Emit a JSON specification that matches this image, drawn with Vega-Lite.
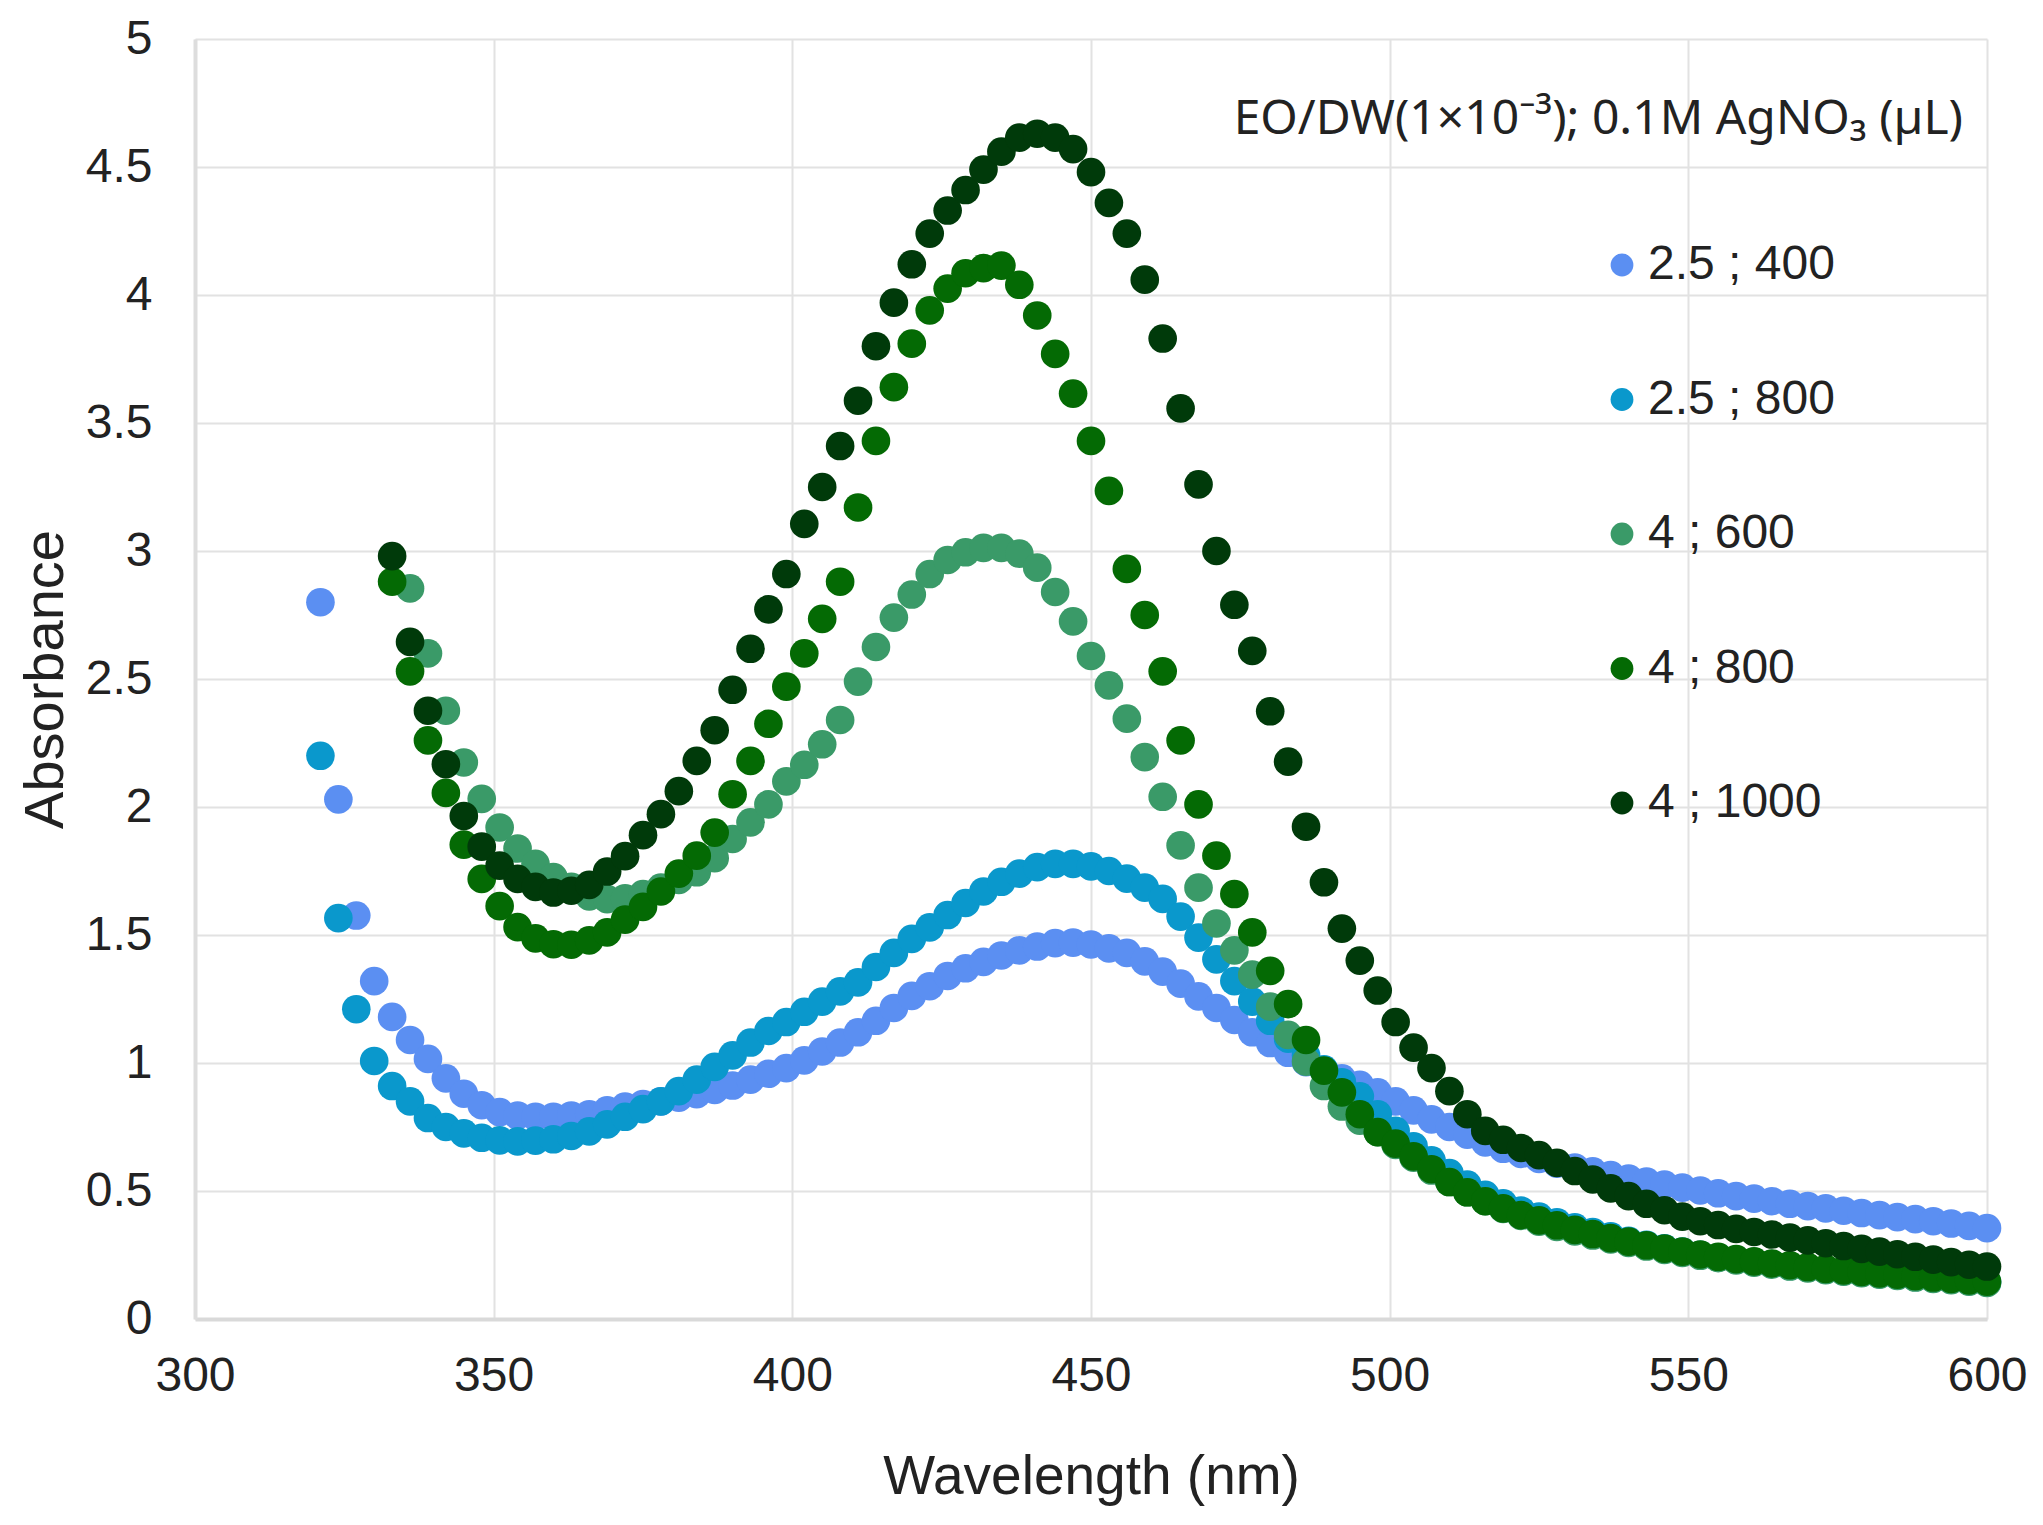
{
"$schema": "https://vega.github.io/schema/vega-lite/v6.json",
"width": 1792, "height": 1280,
"autosize": {"type": "none"},
"padding": {"left": 195, "top": 39, "right": 56, "bottom": 206},
"background": "white",
"config": {"view": {"stroke": null}, "font": "Liberation Sans"},
"title": {"text": "EO/DW(1×10⁻³); 0.1M AgNO₃ (µL)", "anchor": "end", "orient": "top", "frame": "group", "font": "Noto Sans", "fontSize": 48, "fontWeight": "normal", "color": "#222222", "baseline": "alphabetic", "offset": 0, "dy": 167, "dx": -24},
"data": {"values": [
{"series":"2.5 ; 400","nm":321,"abs":2.8},{"series":"2.5 ; 400","nm":324,"abs":2.03},{"series":"2.5 ; 400","nm":327,"abs":1.576},{"series":"2.5 ; 400","nm":330,"abs":1.32},{"series":"2.5 ; 400","nm":333,"abs":1.18},{"series":"2.5 ; 400","nm":336,"abs":1.09},{"series":"2.5 ; 400","nm":339,"abs":1.016},{"series":"2.5 ; 400","nm":342,"abs":0.94},{"series":"2.5 ; 400","nm":345,"abs":0.88},{"series":"2.5 ; 400","nm":348,"abs":0.835},{"series":"2.5 ; 400","nm":351,"abs":0.808},{"series":"2.5 ; 400","nm":354,"abs":0.795},{"series":"2.5 ; 400","nm":357,"abs":0.79},{"series":"2.5 ; 400","nm":360,"abs":0.79},{"series":"2.5 ; 400","nm":363,"abs":0.795},{"series":"2.5 ; 400","nm":366,"abs":0.8},{"series":"2.5 ; 400","nm":369,"abs":0.815},{"series":"2.5 ; 400","nm":372,"abs":0.83},{"series":"2.5 ; 400","nm":375,"abs":0.84},{"series":"2.5 ; 400","nm":378,"abs":0.85},{"series":"2.5 ; 400","nm":381,"abs":0.865},{"series":"2.5 ; 400","nm":384,"abs":0.878},{"series":"2.5 ; 400","nm":387,"abs":0.895},{"series":"2.5 ; 400","nm":390,"abs":0.912},{"series":"2.5 ; 400","nm":393,"abs":0.935},{"series":"2.5 ; 400","nm":396,"abs":0.958},{"series":"2.5 ; 400","nm":399,"abs":0.98},{"series":"2.5 ; 400","nm":402,"abs":1.01},{"series":"2.5 ; 400","nm":405,"abs":1.045},{"series":"2.5 ; 400","nm":408,"abs":1.08},{"series":"2.5 ; 400","nm":411,"abs":1.12},{"series":"2.5 ; 400","nm":414,"abs":1.165},{"series":"2.5 ; 400","nm":417,"abs":1.215},{"series":"2.5 ; 400","nm":420,"abs":1.262},{"series":"2.5 ; 400","nm":423,"abs":1.3},{"series":"2.5 ; 400","nm":426,"abs":1.34},{"series":"2.5 ; 400","nm":429,"abs":1.37},{"series":"2.5 ; 400","nm":432,"abs":1.395},{"series":"2.5 ; 400","nm":435,"abs":1.42},{"series":"2.5 ; 400","nm":438,"abs":1.44},{"series":"2.5 ; 400","nm":441,"abs":1.455},{"series":"2.5 ; 400","nm":444,"abs":1.468},{"series":"2.5 ; 400","nm":447,"abs":1.47},{"series":"2.5 ; 400","nm":450,"abs":1.463},{"series":"2.5 ; 400","nm":453,"abs":1.448},{"series":"2.5 ; 400","nm":456,"abs":1.43},{"series":"2.5 ; 400","nm":459,"abs":1.397},{"series":"2.5 ; 400","nm":462,"abs":1.357},{"series":"2.5 ; 400","nm":465,"abs":1.31},{"series":"2.5 ; 400","nm":468,"abs":1.26},{"series":"2.5 ; 400","nm":471,"abs":1.215},{"series":"2.5 ; 400","nm":474,"abs":1.168},{"series":"2.5 ; 400","nm":477,"abs":1.12},{"series":"2.5 ; 400","nm":480,"abs":1.078},{"series":"2.5 ; 400","nm":483,"abs":1.04},{"series":"2.5 ; 400","nm":486,"abs":1.003},{"series":"2.5 ; 400","nm":489,"abs":0.97},{"series":"2.5 ; 400","nm":492,"abs":0.94},{"series":"2.5 ; 400","nm":495,"abs":0.915},{"series":"2.5 ; 400","nm":498,"abs":0.885},{"series":"2.5 ; 400","nm":501,"abs":0.85},{"series":"2.5 ; 400","nm":504,"abs":0.815},{"series":"2.5 ; 400","nm":507,"abs":0.78},{"series":"2.5 ; 400","nm":510,"abs":0.75},{"series":"2.5 ; 400","nm":513,"abs":0.72},{"series":"2.5 ; 400","nm":516,"abs":0.69},{"series":"2.5 ; 400","nm":519,"abs":0.665},{"series":"2.5 ; 400","nm":522,"abs":0.645},{"series":"2.5 ; 400","nm":525,"abs":0.625},{"series":"2.5 ; 400","nm":528,"abs":0.607},{"series":"2.5 ; 400","nm":531,"abs":0.592},{"series":"2.5 ; 400","nm":534,"abs":0.577},{"series":"2.5 ; 400","nm":537,"abs":0.562},{"series":"2.5 ; 400","nm":540,"abs":0.549},{"series":"2.5 ; 400","nm":543,"abs":0.537},{"series":"2.5 ; 400","nm":546,"abs":0.525},{"series":"2.5 ; 400","nm":549,"abs":0.513},{"series":"2.5 ; 400","nm":552,"abs":0.502},{"series":"2.5 ; 400","nm":555,"abs":0.491},{"series":"2.5 ; 400","nm":558,"abs":0.48},{"series":"2.5 ; 400","nm":561,"abs":0.47},{"series":"2.5 ; 400","nm":564,"abs":0.46},{"series":"2.5 ; 400","nm":567,"abs":0.45},{"series":"2.5 ; 400","nm":570,"abs":0.441},{"series":"2.5 ; 400","nm":573,"abs":0.432},{"series":"2.5 ; 400","nm":576,"abs":0.423},{"series":"2.5 ; 400","nm":579,"abs":0.414},{"series":"2.5 ; 400","nm":582,"abs":0.406},{"series":"2.5 ; 400","nm":585,"abs":0.398},{"series":"2.5 ; 400","nm":588,"abs":0.39},{"series":"2.5 ; 400","nm":591,"abs":0.382},{"series":"2.5 ; 400","nm":594,"abs":0.373},{"series":"2.5 ; 400","nm":597,"abs":0.364},{"series":"2.5 ; 400","nm":600,"abs":0.355},
{"series":"2.5 ; 800","nm":321,"abs":2.2},{"series":"2.5 ; 800","nm":324,"abs":1.566},{"series":"2.5 ; 800","nm":327,"abs":1.21},{"series":"2.5 ; 800","nm":330,"abs":1.008},{"series":"2.5 ; 800","nm":333,"abs":0.91},{"series":"2.5 ; 800","nm":336,"abs":0.85},{"series":"2.5 ; 800","nm":339,"abs":0.785},{"series":"2.5 ; 800","nm":342,"abs":0.75},{"series":"2.5 ; 800","nm":345,"abs":0.725},{"series":"2.5 ; 800","nm":348,"abs":0.708},{"series":"2.5 ; 800","nm":351,"abs":0.698},{"series":"2.5 ; 800","nm":354,"abs":0.694},{"series":"2.5 ; 800","nm":357,"abs":0.697},{"series":"2.5 ; 800","nm":360,"abs":0.702},{"series":"2.5 ; 800","nm":363,"abs":0.715},{"series":"2.5 ; 800","nm":366,"abs":0.733},{"series":"2.5 ; 800","nm":369,"abs":0.76},{"series":"2.5 ; 800","nm":372,"abs":0.79},{"series":"2.5 ; 800","nm":375,"abs":0.82},{"series":"2.5 ; 800","nm":378,"abs":0.85},{"series":"2.5 ; 800","nm":381,"abs":0.89},{"series":"2.5 ; 800","nm":384,"abs":0.935},{"series":"2.5 ; 800","nm":387,"abs":0.985},{"series":"2.5 ; 800","nm":390,"abs":1.03},{"series":"2.5 ; 800","nm":393,"abs":1.08},{"series":"2.5 ; 800","nm":396,"abs":1.125},{"series":"2.5 ; 800","nm":399,"abs":1.16},{"series":"2.5 ; 800","nm":402,"abs":1.2},{"series":"2.5 ; 800","nm":405,"abs":1.24},{"series":"2.5 ; 800","nm":408,"abs":1.28},{"series":"2.5 ; 800","nm":411,"abs":1.315},{"series":"2.5 ; 800","nm":414,"abs":1.375},{"series":"2.5 ; 800","nm":417,"abs":1.43},{"series":"2.5 ; 800","nm":420,"abs":1.485},{"series":"2.5 ; 800","nm":423,"abs":1.53},{"series":"2.5 ; 800","nm":426,"abs":1.578},{"series":"2.5 ; 800","nm":429,"abs":1.625},{"series":"2.5 ; 800","nm":432,"abs":1.67},{"series":"2.5 ; 800","nm":435,"abs":1.708},{"series":"2.5 ; 800","nm":438,"abs":1.74},{"series":"2.5 ; 800","nm":441,"abs":1.765},{"series":"2.5 ; 800","nm":444,"abs":1.778},{"series":"2.5 ; 800","nm":447,"abs":1.778},{"series":"2.5 ; 800","nm":450,"abs":1.768},{"series":"2.5 ; 800","nm":453,"abs":1.75},{"series":"2.5 ; 800","nm":456,"abs":1.72},{"series":"2.5 ; 800","nm":459,"abs":1.685},{"series":"2.5 ; 800","nm":462,"abs":1.641},{"series":"2.5 ; 800","nm":465,"abs":1.572},{"series":"2.5 ; 800","nm":468,"abs":1.49},{"series":"2.5 ; 800","nm":471,"abs":1.405},{"series":"2.5 ; 800","nm":474,"abs":1.32},{"series":"2.5 ; 800","nm":477,"abs":1.24},{"series":"2.5 ; 800","nm":480,"abs":1.165},{"series":"2.5 ; 800","nm":483,"abs":1.095},{"series":"2.5 ; 800","nm":486,"abs":1.03},{"series":"2.5 ; 800","nm":489,"abs":0.975},{"series":"2.5 ; 800","nm":492,"abs":0.925},{"series":"2.5 ; 800","nm":495,"abs":0.87},{"series":"2.5 ; 800","nm":498,"abs":0.8},{"series":"2.5 ; 800","nm":501,"abs":0.735},{"series":"2.5 ; 800","nm":504,"abs":0.675},{"series":"2.5 ; 800","nm":507,"abs":0.62},{"series":"2.5 ; 800","nm":510,"abs":0.57},{"series":"2.5 ; 800","nm":513,"abs":0.525},{"series":"2.5 ; 800","nm":516,"abs":0.485},{"series":"2.5 ; 800","nm":519,"abs":0.452},{"series":"2.5 ; 800","nm":522,"abs":0.424},{"series":"2.5 ; 800","nm":525,"abs":0.4},{"series":"2.5 ; 800","nm":528,"abs":0.378},{"series":"2.5 ; 800","nm":531,"abs":0.358},{"series":"2.5 ; 800","nm":534,"abs":0.34},{"series":"2.5 ; 800","nm":537,"abs":0.323},{"series":"2.5 ; 800","nm":540,"abs":0.305},{"series":"2.5 ; 800","nm":543,"abs":0.29},{"series":"2.5 ; 800","nm":546,"abs":0.276},{"series":"2.5 ; 800","nm":549,"abs":0.263},{"series":"2.5 ; 800","nm":552,"abs":0.251},{"series":"2.5 ; 800","nm":555,"abs":0.241},{"series":"2.5 ; 800","nm":558,"abs":0.232},{"series":"2.5 ; 800","nm":561,"abs":0.223},{"series":"2.5 ; 800","nm":564,"abs":0.215},{"series":"2.5 ; 800","nm":567,"abs":0.207},{"series":"2.5 ; 800","nm":570,"abs":0.2},{"series":"2.5 ; 800","nm":573,"abs":0.193},{"series":"2.5 ; 800","nm":576,"abs":0.187},{"series":"2.5 ; 800","nm":579,"abs":0.181},{"series":"2.5 ; 800","nm":582,"abs":0.175},{"series":"2.5 ; 800","nm":585,"abs":0.17},{"series":"2.5 ; 800","nm":588,"abs":0.164},{"series":"2.5 ; 800","nm":591,"abs":0.159},{"series":"2.5 ; 800","nm":594,"abs":0.154},{"series":"2.5 ; 800","nm":597,"abs":0.148},{"series":"2.5 ; 800","nm":600,"abs":0.143},
{"series":"4 ; 600","nm":336,"abs":2.854},{"series":"4 ; 600","nm":339,"abs":2.6},{"series":"4 ; 600","nm":342,"abs":2.376},{"series":"4 ; 600","nm":345,"abs":2.174},{"series":"4 ; 600","nm":348,"abs":2.032},{"series":"4 ; 600","nm":351,"abs":1.92},{"series":"4 ; 600","nm":354,"abs":1.838},{"series":"4 ; 600","nm":357,"abs":1.778},{"series":"4 ; 600","nm":360,"abs":1.726},{"series":"4 ; 600","nm":363,"abs":1.688},{"series":"4 ; 600","nm":366,"abs":1.651},{"series":"4 ; 600","nm":369,"abs":1.64},{"series":"4 ; 600","nm":372,"abs":1.643},{"series":"4 ; 600","nm":375,"abs":1.66},{"series":"4 ; 600","nm":378,"abs":1.685},{"series":"4 ; 600","nm":381,"abs":1.715},{"series":"4 ; 600","nm":384,"abs":1.745},{"series":"4 ; 600","nm":387,"abs":1.8},{"series":"4 ; 600","nm":390,"abs":1.875},{"series":"4 ; 600","nm":393,"abs":1.94},{"series":"4 ; 600","nm":396,"abs":2.01},{"series":"4 ; 600","nm":399,"abs":2.1},{"series":"4 ; 600","nm":402,"abs":2.165},{"series":"4 ; 600","nm":405,"abs":2.245},{"series":"4 ; 600","nm":408,"abs":2.34},{"series":"4 ; 600","nm":411,"abs":2.49},{"series":"4 ; 600","nm":414,"abs":2.625},{"series":"4 ; 600","nm":417,"abs":2.74},{"series":"4 ; 600","nm":420,"abs":2.83},{"series":"4 ; 600","nm":423,"abs":2.91},{"series":"4 ; 600","nm":426,"abs":2.965},{"series":"4 ; 600","nm":429,"abs":2.995},{"series":"4 ; 600","nm":432,"abs":3.012},{"series":"4 ; 600","nm":435,"abs":3.012},{"series":"4 ; 600","nm":438,"abs":2.99},{"series":"4 ; 600","nm":441,"abs":2.935},{"series":"4 ; 600","nm":444,"abs":2.84},{"series":"4 ; 600","nm":447,"abs":2.725},{"series":"4 ; 600","nm":450,"abs":2.59},{"series":"4 ; 600","nm":453,"abs":2.475},{"series":"4 ; 600","nm":456,"abs":2.345},{"series":"4 ; 600","nm":459,"abs":2.195},{"series":"4 ; 600","nm":462,"abs":2.04},{"series":"4 ; 600","nm":465,"abs":1.85},{"series":"4 ; 600","nm":468,"abs":1.685},{"series":"4 ; 600","nm":471,"abs":1.545},{"series":"4 ; 600","nm":474,"abs":1.44},{"series":"4 ; 600","nm":477,"abs":1.345},{"series":"4 ; 600","nm":480,"abs":1.22},{"series":"4 ; 600","nm":483,"abs":1.11},{"series":"4 ; 600","nm":486,"abs":1.005},{"series":"4 ; 600","nm":489,"abs":0.91},{"series":"4 ; 600","nm":492,"abs":0.83},{"series":"4 ; 600","nm":495,"abs":0.775},{"series":"4 ; 600","nm":498,"abs":0.73},{"series":"4 ; 600","nm":501,"abs":0.68},{"series":"4 ; 600","nm":504,"abs":0.63},{"series":"4 ; 600","nm":507,"abs":0.58},{"series":"4 ; 600","nm":510,"abs":0.535},{"series":"4 ; 600","nm":513,"abs":0.495},{"series":"4 ; 600","nm":516,"abs":0.46},{"series":"4 ; 600","nm":519,"abs":0.43},{"series":"4 ; 600","nm":522,"abs":0.403},{"series":"4 ; 600","nm":525,"abs":0.38},{"series":"4 ; 600","nm":528,"abs":0.36},{"series":"4 ; 600","nm":531,"abs":0.342},{"series":"4 ; 600","nm":534,"abs":0.326},{"series":"4 ; 600","nm":537,"abs":0.311},{"series":"4 ; 600","nm":540,"abs":0.297},{"series":"4 ; 600","nm":543,"abs":0.283},{"series":"4 ; 600","nm":546,"abs":0.27},{"series":"4 ; 600","nm":549,"abs":0.258},{"series":"4 ; 600","nm":552,"abs":0.247},{"series":"4 ; 600","nm":555,"abs":0.238},{"series":"4 ; 600","nm":558,"abs":0.229},{"series":"4 ; 600","nm":561,"abs":0.22},{"series":"4 ; 600","nm":564,"abs":0.212},{"series":"4 ; 600","nm":567,"abs":0.205},{"series":"4 ; 600","nm":570,"abs":0.198},{"series":"4 ; 600","nm":573,"abs":0.191},{"series":"4 ; 600","nm":576,"abs":0.185},{"series":"4 ; 600","nm":579,"abs":0.179},{"series":"4 ; 600","nm":582,"abs":0.173},{"series":"4 ; 600","nm":585,"abs":0.168},{"series":"4 ; 600","nm":588,"abs":0.162},{"series":"4 ; 600","nm":591,"abs":0.157},{"series":"4 ; 600","nm":594,"abs":0.152},{"series":"4 ; 600","nm":597,"abs":0.146},{"series":"4 ; 600","nm":600,"abs":0.141},
{"series":"4 ; 800","nm":333,"abs":2.88},{"series":"4 ; 800","nm":336,"abs":2.53},{"series":"4 ; 800","nm":339,"abs":2.26},{"series":"4 ; 800","nm":342,"abs":2.055},{"series":"4 ; 800","nm":345,"abs":1.853},{"series":"4 ; 800","nm":348,"abs":1.719},{"series":"4 ; 800","nm":351,"abs":1.613},{"series":"4 ; 800","nm":354,"abs":1.531},{"series":"4 ; 800","nm":357,"abs":1.487},{"series":"4 ; 800","nm":360,"abs":1.464},{"series":"4 ; 800","nm":363,"abs":1.462},{"series":"4 ; 800","nm":366,"abs":1.479},{"series":"4 ; 800","nm":369,"abs":1.51},{"series":"4 ; 800","nm":372,"abs":1.56},{"series":"4 ; 800","nm":375,"abs":1.61},{"series":"4 ; 800","nm":378,"abs":1.67},{"series":"4 ; 800","nm":381,"abs":1.74},{"series":"4 ; 800","nm":384,"abs":1.81},{"series":"4 ; 800","nm":387,"abs":1.9},{"series":"4 ; 800","nm":390,"abs":2.05},{"series":"4 ; 800","nm":393,"abs":2.18},{"series":"4 ; 800","nm":396,"abs":2.325},{"series":"4 ; 800","nm":399,"abs":2.47},{"series":"4 ; 800","nm":402,"abs":2.6},{"series":"4 ; 800","nm":405,"abs":2.735},{"series":"4 ; 800","nm":408,"abs":2.88},{"series":"4 ; 800","nm":411,"abs":3.17},{"series":"4 ; 800","nm":414,"abs":3.43},{"series":"4 ; 800","nm":417,"abs":3.64},{"series":"4 ; 800","nm":420,"abs":3.81},{"series":"4 ; 800","nm":423,"abs":3.94},{"series":"4 ; 800","nm":426,"abs":4.025},{"series":"4 ; 800","nm":429,"abs":4.085},{"series":"4 ; 800","nm":432,"abs":4.105},{"series":"4 ; 800","nm":435,"abs":4.115},{"series":"4 ; 800","nm":438,"abs":4.04},{"series":"4 ; 800","nm":441,"abs":3.92},{"series":"4 ; 800","nm":444,"abs":3.77},{"series":"4 ; 800","nm":447,"abs":3.615},{"series":"4 ; 800","nm":450,"abs":3.43},{"series":"4 ; 800","nm":453,"abs":3.235},{"series":"4 ; 800","nm":456,"abs":2.93},{"series":"4 ; 800","nm":459,"abs":2.75},{"series":"4 ; 800","nm":462,"abs":2.53},{"series":"4 ; 800","nm":465,"abs":2.26},{"series":"4 ; 800","nm":468,"abs":2.01},{"series":"4 ; 800","nm":471,"abs":1.81},{"series":"4 ; 800","nm":474,"abs":1.66},{"series":"4 ; 800","nm":477,"abs":1.51},{"series":"4 ; 800","nm":480,"abs":1.36},{"series":"4 ; 800","nm":483,"abs":1.23},{"series":"4 ; 800","nm":486,"abs":1.09},{"series":"4 ; 800","nm":489,"abs":0.97},{"series":"4 ; 800","nm":492,"abs":0.885},{"series":"4 ; 800","nm":495,"abs":0.8},{"series":"4 ; 800","nm":498,"abs":0.73},{"series":"4 ; 800","nm":501,"abs":0.685},{"series":"4 ; 800","nm":504,"abs":0.635},{"series":"4 ; 800","nm":507,"abs":0.585},{"series":"4 ; 800","nm":510,"abs":0.535},{"series":"4 ; 800","nm":513,"abs":0.495},{"series":"4 ; 800","nm":516,"abs":0.46},{"series":"4 ; 800","nm":519,"abs":0.432},{"series":"4 ; 800","nm":522,"abs":0.406},{"series":"4 ; 800","nm":525,"abs":0.385},{"series":"4 ; 800","nm":528,"abs":0.366},{"series":"4 ; 800","nm":531,"abs":0.348},{"series":"4 ; 800","nm":534,"abs":0.332},{"series":"4 ; 800","nm":537,"abs":0.316},{"series":"4 ; 800","nm":540,"abs":0.302},{"series":"4 ; 800","nm":543,"abs":0.288},{"series":"4 ; 800","nm":546,"abs":0.275},{"series":"4 ; 800","nm":549,"abs":0.263},{"series":"4 ; 800","nm":552,"abs":0.252},{"series":"4 ; 800","nm":555,"abs":0.243},{"series":"4 ; 800","nm":558,"abs":0.234},{"series":"4 ; 800","nm":561,"abs":0.225},{"series":"4 ; 800","nm":564,"abs":0.217},{"series":"4 ; 800","nm":567,"abs":0.21},{"series":"4 ; 800","nm":570,"abs":0.203},{"series":"4 ; 800","nm":573,"abs":0.196},{"series":"4 ; 800","nm":576,"abs":0.19},{"series":"4 ; 800","nm":579,"abs":0.184},{"series":"4 ; 800","nm":582,"abs":0.178},{"series":"4 ; 800","nm":585,"abs":0.173},{"series":"4 ; 800","nm":588,"abs":0.167},{"series":"4 ; 800","nm":591,"abs":0.162},{"series":"4 ; 800","nm":594,"abs":0.157},{"series":"4 ; 800","nm":597,"abs":0.151},{"series":"4 ; 800","nm":600,"abs":0.146},
{"series":"4 ; 1000","nm":333,"abs":2.98},{"series":"4 ; 1000","nm":336,"abs":2.645},{"series":"4 ; 1000","nm":339,"abs":2.376},{"series":"4 ; 1000","nm":342,"abs":2.167},{"series":"4 ; 1000","nm":345,"abs":1.965},{"series":"4 ; 1000","nm":348,"abs":1.845},{"series":"4 ; 1000","nm":351,"abs":1.771},{"series":"4 ; 1000","nm":354,"abs":1.719},{"series":"4 ; 1000","nm":357,"abs":1.688},{"series":"4 ; 1000","nm":360,"abs":1.666},{"series":"4 ; 1000","nm":363,"abs":1.673},{"series":"4 ; 1000","nm":366,"abs":1.696},{"series":"4 ; 1000","nm":369,"abs":1.748},{"series":"4 ; 1000","nm":372,"abs":1.808},{"series":"4 ; 1000","nm":375,"abs":1.89},{"series":"4 ; 1000","nm":378,"abs":1.972},{"series":"4 ; 1000","nm":381,"abs":2.062},{"series":"4 ; 1000","nm":384,"abs":2.18},{"series":"4 ; 1000","nm":387,"abs":2.3},{"series":"4 ; 1000","nm":390,"abs":2.458},{"series":"4 ; 1000","nm":393,"abs":2.618},{"series":"4 ; 1000","nm":396,"abs":2.772},{"series":"4 ; 1000","nm":399,"abs":2.91},{"series":"4 ; 1000","nm":402,"abs":3.106},{"series":"4 ; 1000","nm":405,"abs":3.25},{"series":"4 ; 1000","nm":408,"abs":3.41},{"series":"4 ; 1000","nm":411,"abs":3.587},{"series":"4 ; 1000","nm":414,"abs":3.8},{"series":"4 ; 1000","nm":417,"abs":3.97},{"series":"4 ; 1000","nm":420,"abs":4.12},{"series":"4 ; 1000","nm":423,"abs":4.24},{"series":"4 ; 1000","nm":426,"abs":4.33},{"series":"4 ; 1000","nm":429,"abs":4.41},{"series":"4 ; 1000","nm":432,"abs":4.49},{"series":"4 ; 1000","nm":435,"abs":4.56},{"series":"4 ; 1000","nm":438,"abs":4.615},{"series":"4 ; 1000","nm":441,"abs":4.63},{"series":"4 ; 1000","nm":444,"abs":4.615},{"series":"4 ; 1000","nm":447,"abs":4.57},{"series":"4 ; 1000","nm":450,"abs":4.48},{"series":"4 ; 1000","nm":453,"abs":4.36},{"series":"4 ; 1000","nm":456,"abs":4.24},{"series":"4 ; 1000","nm":459,"abs":4.06},{"series":"4 ; 1000","nm":462,"abs":3.83},{"series":"4 ; 1000","nm":465,"abs":3.557},{"series":"4 ; 1000","nm":468,"abs":3.26},{"series":"4 ; 1000","nm":471,"abs":3.0},{"series":"4 ; 1000","nm":474,"abs":2.79},{"series":"4 ; 1000","nm":477,"abs":2.61},{"series":"4 ; 1000","nm":480,"abs":2.374},{"series":"4 ; 1000","nm":483,"abs":2.177},{"series":"4 ; 1000","nm":486,"abs":1.923},{"series":"4 ; 1000","nm":489,"abs":1.706},{"series":"4 ; 1000","nm":492,"abs":1.525},{"series":"4 ; 1000","nm":495,"abs":1.4},{"series":"4 ; 1000","nm":498,"abs":1.283},{"series":"4 ; 1000","nm":501,"abs":1.16},{"series":"4 ; 1000","nm":504,"abs":1.06},{"series":"4 ; 1000","nm":507,"abs":0.98},{"series":"4 ; 1000","nm":510,"abs":0.89},{"series":"4 ; 1000","nm":513,"abs":0.8},{"series":"4 ; 1000","nm":516,"abs":0.735},{"series":"4 ; 1000","nm":519,"abs":0.7},{"series":"4 ; 1000","nm":522,"abs":0.668},{"series":"4 ; 1000","nm":525,"abs":0.64},{"series":"4 ; 1000","nm":528,"abs":0.61},{"series":"4 ; 1000","nm":531,"abs":0.578},{"series":"4 ; 1000","nm":534,"abs":0.545},{"series":"4 ; 1000","nm":537,"abs":0.51},{"series":"4 ; 1000","nm":540,"abs":0.48},{"series":"4 ; 1000","nm":543,"abs":0.45},{"series":"4 ; 1000","nm":546,"abs":0.425},{"series":"4 ; 1000","nm":549,"abs":0.4},{"series":"4 ; 1000","nm":552,"abs":0.382},{"series":"4 ; 1000","nm":555,"abs":0.367},{"series":"4 ; 1000","nm":558,"abs":0.352},{"series":"4 ; 1000","nm":561,"abs":0.34},{"series":"4 ; 1000","nm":564,"abs":0.33},{"series":"4 ; 1000","nm":567,"abs":0.318},{"series":"4 ; 1000","nm":570,"abs":0.307},{"series":"4 ; 1000","nm":573,"abs":0.296},{"series":"4 ; 1000","nm":576,"abs":0.285},{"series":"4 ; 1000","nm":579,"abs":0.274},{"series":"4 ; 1000","nm":582,"abs":0.263},{"series":"4 ; 1000","nm":585,"abs":0.253},{"series":"4 ; 1000","nm":588,"abs":0.243},{"series":"4 ; 1000","nm":591,"abs":0.232},{"series":"4 ; 1000","nm":594,"abs":0.222},{"series":"4 ; 1000","nm":597,"abs":0.212},{"series":"4 ; 1000","nm":600,"abs":0.205}
]},
"mark": {"type": "circle", "size": 820, "opacity": 1},
"encoding": {
  "x": {"field": "nm", "type": "quantitative",
    "scale": {"domain": [300, 600], "nice": false, "zero": false},
    "axis": {"title": "Wavelength (nm)", "values": [300,350,400,450,500,550,600],
      "labelFontSize": 48, "labelFont": "Liberation Sans", "labelColor": "#222222", "labelPadding": 33, "labelFlush": false, "labelOverlap": false, "labelBound": false,
      "ticks": false, "domain": true, "domainColor": "#D9D9D9", "domainWidth": 4,
      "grid": true, "gridColor": "#E2E2E2", "gridWidth": 2,
      "titleFont": "Liberation Sans", "titleFontSize": 55, "titleFontWeight": "normal", "titleColor": "#222222", "titlePadding": 50}},
  "y": {"field": "abs", "type": "quantitative",
    "scale": {"domain": [0, 5], "nice": false},
    "axis": {"title": "Absorbance", "values": [0,0.5,1,1.5,2,2.5,3,3.5,4,4.5,5], "format": ".1~f",
      "labelFontSize": 48, "labelFont": "Liberation Sans", "labelColor": "#222222", "labelPadding": 43, "labelOverlap": false, "labelBound": false, "labelFlush": false,
      "ticks": false, "domain": true, "domainColor": "#DDDDDD", "domainWidth": 4,
      "grid": true, "gridColor": "#E2E2E2", "gridWidth": 2,
      "titleFont": "Liberation Sans", "titleFontSize": 56, "titleFontWeight": "normal", "titleColor": "#222222", "titlePadding": 11}},
  "color": {"field": "series", "type": "nominal",
    "scale": {"domain": ["2.5 ; 400", "2.5 ; 800", "4 ; 600", "4 ; 800", "4 ; 1000"],
              "range": ["#5B8FF2", "#0A98CC", "#3A9A68", "#046A04", "#003A0A"]},
    "legend": {"title": null, "orient": "none", "legendX": 1403, "legendY": 202, "direction": "vertical",
      "symbolType": "circle", "symbolSize": 520, "symbolStrokeWidth": 0, "symbolOpacity": 1,
      "labelFontSize": 48, "labelFont": "Liberation Sans", "labelColor": "#222222", "labelOffset": 2, "labelLimit": 0,
      "rowPadding": 86.5, "padding": 0}}
}
}
